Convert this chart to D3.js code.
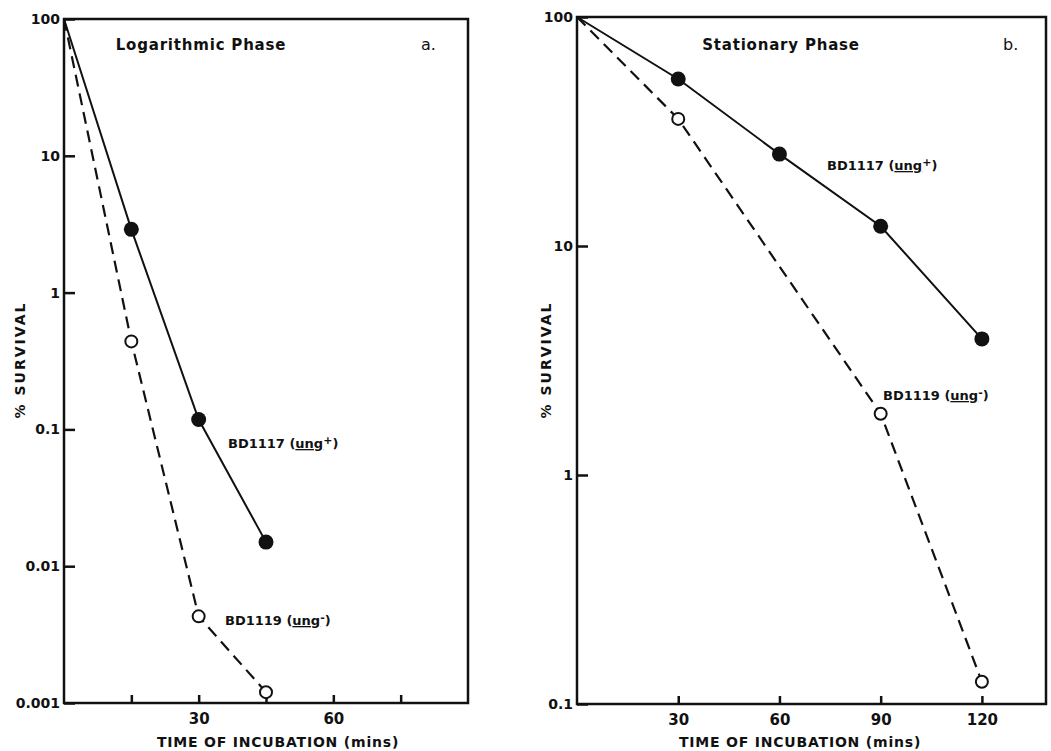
<!DOCTYPE html>
<html>
<head>
<meta charset="utf-8">
<script src="https://d3js.org/d3.v7.min.js"></script>
<style>
  body { margin: 0; background: #fff; }
  svg text { font-family: "DejaVu Sans", sans-serif; font-weight: bold; fill: #111; }
</style>
</head>
<body>
<div id="chart"></div>
<script>
// ---- data ----
// panel a: logarithmic phase
var logTimePlus = [0, 15, 30, 45];
var logUngPlus = [100, 2.9, 0.118, 0.015];
var logTimeMinus = [0, 15, 30, 45];
var logUngMinus = [100, 0.44, 0.0043, 0.0012];
var logYTicks = [100, 10, 1, 0.1, 0.01, 0.001];
var logXTicks = [15, 30, 45, 60, 75];
var logXLabels = [30, 60];

// panel b: stationary phase
var statTimePlus = [0, 30, 60, 90, 120];
var statUngPlus = [100, 53.6, 25.2, 12.2, 3.93];
var statTimeMinus = [0, 30, 90, 120];
var statUngMinus = [100, 35.9, 1.85, 0.125];
var statYTicks = [100, 10, 1, 0.1];
var statXTicks = [30, 60, 90, 120];
var statXLabels = [30, 60, 90, 120];

var svg = d3.select("#chart").append("svg")
    .attr("width", 1051)
    .attr("height", 751);

function fmt(v) {
  return String(v);
}

function drawPanel(p) {
  var x = d3.scaleLinear().domain(p.xDomain).range([p.left, p.right]);
  var y = d3.scaleLog().domain(p.yDomain).range([p.bottom, p.top]);
  var g = svg.append("g");

  // frame
  g.append("rect")
    .attr("x", p.left).attr("y", p.top)
    .attr("width", p.right - p.left).attr("height", p.bottom - p.top)
    .attr("fill", "none").attr("stroke", "#111").attr("stroke-width", 2.5);

  // y axis, ticks pointing inward
  var ya = g.append("g")
    .attr("transform", "translate(" + p.left + ",0)")
    .call(d3.axisLeft(y).tickValues(p.yTicks).tickFormat(fmt)
      .tickSizeInner(-11).tickSizeOuter(0).tickPadding(4));
  ya.select(".domain").remove();
  ya.selectAll("line").attr("stroke", "#111").attr("stroke-width", 2.5);
  ya.selectAll("text").attr("font-size", 14).style("font-family", "DejaVu Sans").style("font-weight", "bold");

  // x axis, ticks pointing up
  var xa = g.append("g")
    .attr("transform", "translate(0," + p.bottom + ")")
    .call(d3.axisBottom(x).tickValues(p.xTicks)
      .tickFormat(function(d) { return p.xLabels.indexOf(d) >= 0 ? d : ""; })
      .tickSizeInner(-8).tickSizeOuter(0).tickPadding(10));
  xa.select(".domain").remove();
  xa.selectAll("line").attr("stroke", "#111").attr("stroke-width", 2.5);
  xa.selectAll("text").attr("font-size", 15).style("font-family", "DejaVu Sans").style("font-weight", "bold");

  // axis titles
  g.append("text")
    .attr("x", (p.xTitleX)).attr("y", 747)
    .attr("text-anchor", "middle").attr("font-size", 14)
    .attr("letter-spacing", 0.8)
    .text("TIME OF INCUBATION (mins)");
  g.append("text")
    .attr("transform", "translate(" + p.yTitleX + ",360) rotate(-90)")
    .attr("text-anchor", "middle").attr("font-size", 14)
    .attr("letter-spacing", 2)
    .text("% SURVIVAL");

  // panel title and letter
  g.append("text")
    .attr("x", p.titleX).attr("y", 50)
    .attr("text-anchor", "middle").attr("font-size", 15)
    .attr("letter-spacing", 0.8)
    .text(p.title);
  g.append("text")
    .attr("x", p.letterX).attr("y", 50)
    .attr("font-size", 16).style("font-weight", "normal")
    .text(p.letter);

  var line = d3.line().x(function(d) { return x(d[0]); }).y(function(d) { return y(d[1]); });

  var minus = d3.zip(p.tMinus, p.vMinus);
  var plus = d3.zip(p.tPlus, p.vPlus);

  g.append("path").datum(minus)
    .attr("d", line).attr("fill", "none").attr("stroke", "#111")
    .attr("stroke-width", 2.2).attr("stroke-dasharray", "12,7");
  g.append("path").datum(plus)
    .attr("d", line).attr("fill", "none").attr("stroke", "#111")
    .attr("stroke-width", 2);

  g.selectAll(".open").data(minus.slice(1)).enter().append("circle")
    .attr("cx", function(d) { return x(d[0]); })
    .attr("cy", function(d) { return y(d[1]); })
    .attr("r", 6).attr("fill", "#fff").attr("stroke", "#111").attr("stroke-width", 2);
  g.selectAll(".filled").data(plus.slice(1)).enter().append("circle")
    .attr("cx", function(d) { return x(d[0]); })
    .attr("cy", function(d) { return y(d[1]); })
    .attr("r", 7.5).attr("fill", "#111");

  // strain labels
  strainLabel(g, p.plusLabel[0], p.plusLabel[1], "BD1117", "+");
  strainLabel(g, p.minusLabel[0], p.minusLabel[1], "BD1119", "-");
}

function strainLabel(g, lx, ly, name, sign) {
  var t = g.append("text").attr("x", lx).attr("y", ly).attr("font-size", 13);
  t.append("tspan").text(name + " (");
  t.append("tspan").attr("text-decoration", "underline").text("ung");
  t.append("tspan").attr("dy", -4).attr("font-size", 11).text(sign);
  t.append("tspan").attr("dy", 4).text(")");
}

drawPanel({
  left: 64, right: 468, top: 19, bottom: 703,
  xDomain: [0, 90], yDomain: [0.001, 100],
  yTicks: logYTicks, xTicks: logXTicks, xLabels: logXLabels,
  tPlus: logTimePlus, vPlus: logUngPlus,
  tMinus: logTimeMinus, vMinus: logUngMinus,
  title: "Logarithmic Phase", titleX: 201, letter: "a.", letterX: 421,
  xTitleX: 278, yTitleX: 25,
  plusLabel: [228, 448], minusLabel: [225, 625]
});

drawPanel({
  left: 577, right: 1046, top: 17, bottom: 704,
  xDomain: [0, 139], yDomain: [0.1, 100],
  yTicks: statYTicks, xTicks: statXTicks, xLabels: statXLabels,
  tPlus: statTimePlus, vPlus: statUngPlus,
  tMinus: statTimeMinus, vMinus: statUngMinus,
  title: "Stationary Phase", titleX: 781, letter: "b.", letterX: 1003,
  xTitleX: 800, yTitleX: 551,
  plusLabel: [827, 170], minusLabel: [883, 400]
});
</script>
</body>
</html>
